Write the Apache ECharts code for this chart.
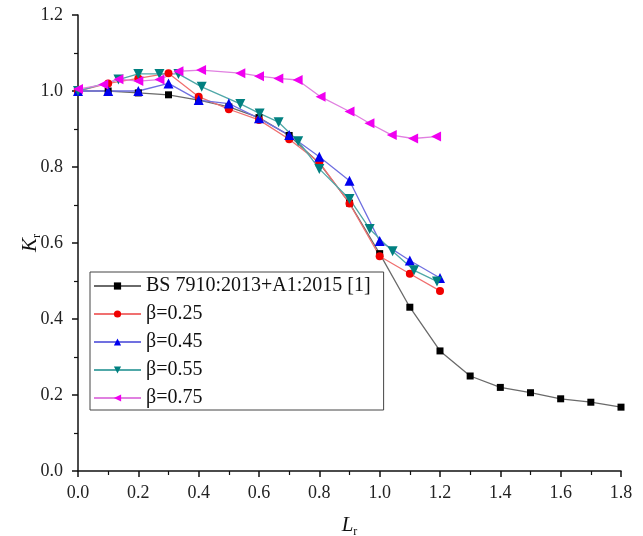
<!DOCTYPE html>
<html>
<head>
<meta charset="utf-8">
<script src="https://cdn.jsdelivr.net/npm/echarts@6/dist/echarts.min.js"></script>
<style>html,body{margin:0;padding:0;background:#fff;}#c{width:643px;height:536px;}</style>
</head>
<body>
<div id="c"></div>
<script>
var xTicks = ['0.0','0.2','0.4','0.6','0.8','1.0','1.2','1.4','1.6','1.8'];
var yTicks = ['0.0','0.2','0.4','0.6','0.8','1.0','1.2'];

var bsX = [0,0.1,0.2,0.3,0.4,0.5,0.6,0.7,0.8,0.9,1.0,1.1,1.2,1.3,1.4,1.5,1.6,1.7,1.8];
var bsY = [1.0,1.0,0.995,0.99,0.976,0.958,0.93,0.883,0.81,0.705,0.572,0.431,0.316,0.25,0.22,0.206,0.19,0.181,0.168];

var b25X = [0,0.1,0.2,0.3,0.4,0.5,0.6,0.7,0.8,0.9,1.0,1.1,1.2];
var b25Y = [1.0,1.02,1.033,1.047,0.985,0.952,0.924,0.873,0.812,0.704,0.565,0.519,0.474];

var b45X = [0,0.1,0.2,0.3,0.4,0.5,0.6,0.7,0.8,0.9,1.0,1.1,1.2];
var b45Y = [1.0,1.0,1.0,1.02,0.976,0.967,0.928,0.884,0.827,0.764,0.605,0.554,0.508];

var b55X = [0,0.134,0.2,0.27,0.333,0.41,0.538,0.602,0.665,0.73,0.8,0.9,0.967,1.043,1.114,1.19];
var b55Y = [1.0,1.03,1.045,1.045,1.045,1.011,0.966,0.941,0.918,0.868,0.795,0.716,0.637,0.578,0.528,0.499];

var b75X = [0,0.084,0.134,0.2,0.27,0.333,0.408,0.538,0.6,0.664,0.728,0.804,0.9,0.966,1.04,1.111,1.187];
var b75Y = [1.005,1.017,1.031,1.026,1.03,1.052,1.055,1.047,1.039,1.033,1.029,0.985,0.946,0.915,0.884,0.875,0.88];

var names = ['BS 7910:2013+A1:2015 [1]','\u03b2=0.25','\u03b2=0.45','\u03b2=0.55','\u03b2=0.75'];

function pairs(xs, ys){ return xs.map(function(x,i){ return [x, ys[i]]; }); }

var FONT = '"Liberation Serif", "Times New Roman", serif';
var chart = echarts.init(document.getElementById('c'), null, {renderer:'canvas'});

var triPath = 'path://M0,-10L8.66,5L-8.66,5Z';

chart.setOption({
  animation: false,
  backgroundColor: '#fff',
  grid: {left: 78, right: 22, top: 15, bottom: 65, containLabel: false, outerBoundsMode: 'none'},
  legend: {
    orient: 'vertical',
    left: 90, top: 272,
    padding: [4, 13, 2, 3],
    borderColor: '#444', borderWidth: 1,
    backgroundColor: '#fff',
    itemWidth: 47, itemHeight: 9, itemGap: 8,
    textStyle: {fontFamily: FONT, fontSize: 20, color: '#111', lineHeight: 20},
    data: names
  },
  xAxis: {
    type: 'value', min: 0, max: 1.8, interval: 0.2,
    name: '{i|L}{s|r}', nameLocation: 'middle', nameGap: 41, nameMoveOverlap: false,
    nameTextStyle: {rich: {
      i: {fontFamily: FONT, fontStyle: 'italic', fontSize: 21, color: '#111'},
      s: {fontFamily: FONT, fontSize: 12, color: '#111', padding: [14,0,0,0]}
    }},
    axisLine: {onZero: false, lineStyle: {color: '#111', width: 1.5}},
    axisTick: {show: true, inside: false, length: 6, lineStyle: {color: '#111', width: 1.5}},
    minorTick: {show: true, splitNumber: 2, length: 4, lineStyle: {color: '#111', width: 1.2}},
    axisLabel: {margin: 13, fontFamily: FONT, fontSize: 18, color: '#222',
      formatter: function(v){ var s = v.toFixed(1); return xTicks.indexOf(s) >= 0 ? s : ''; }},
    splitLine: {show: false}
  },
  yAxis: {
    type: 'value', min: 0, max: 1.2, interval: 0.2,
    name: '{i|K}{s|r}', nameLocation: 'middle', nameGap: 35, nameRotate: 90, nameMoveOverlap: false,
    nameTextStyle: {rich: {
      i: {fontFamily: FONT, fontStyle: 'italic', fontSize: 21, color: '#111'},
      s: {fontFamily: FONT, fontSize: 12, color: '#111', padding: [14,0,0,0]}
    }},
    axisLine: {onZero: false, lineStyle: {color: '#111', width: 1.5}},
    axisTick: {show: true, inside: false, length: 6, lineStyle: {color: '#111', width: 1.5}},
    minorTick: {show: true, splitNumber: 2, length: 4, lineStyle: {color: '#111', width: 1.2}},
    axisLabel: {margin: 15, fontFamily: FONT, fontSize: 18, color: '#222',
      formatter: function(v){ var s = v.toFixed(1); return yTicks.indexOf(s) >= 0 ? s : ''; }},
    splitLine: {show: false}
  },
  series: [
    {name: names[0], type: 'line', data: pairs(bsX, bsY), symbol: 'rect', symbolSize: 7,
     itemStyle: {color: '#000'}, lineStyle: {color: '#6a6a6a', width: 1.3}},
    {name: names[1], type: 'line', data: pairs(b25X, b25Y), symbol: 'circle', symbolSize: 8,
     itemStyle: {color: '#f00000'}, lineStyle: {color: '#f07070', width: 1.3}},
    {name: names[2], type: 'line', data: pairs(b45X, b45Y), symbol: triPath, symbolSize: 10,
     itemStyle: {color: '#0000ee'}, lineStyle: {color: '#7070e0', width: 1.3}},
    {name: names[3], type: 'line', data: pairs(b55X, b55Y), symbol: triPath, symbolSize: 10, symbolRotate: 180,
     itemStyle: {color: '#008080'}, lineStyle: {color: '#50a8a8', width: 1.3}},
    {name: names[4], type: 'line', data: pairs(b75X, b75Y), symbol: triPath, symbolSize: 10, symbolRotate: 90,
     itemStyle: {color: '#f000f0'}, lineStyle: {color: '#e080e0', width: 1.3}}
  ]
});
</script>
</body>
</html>
